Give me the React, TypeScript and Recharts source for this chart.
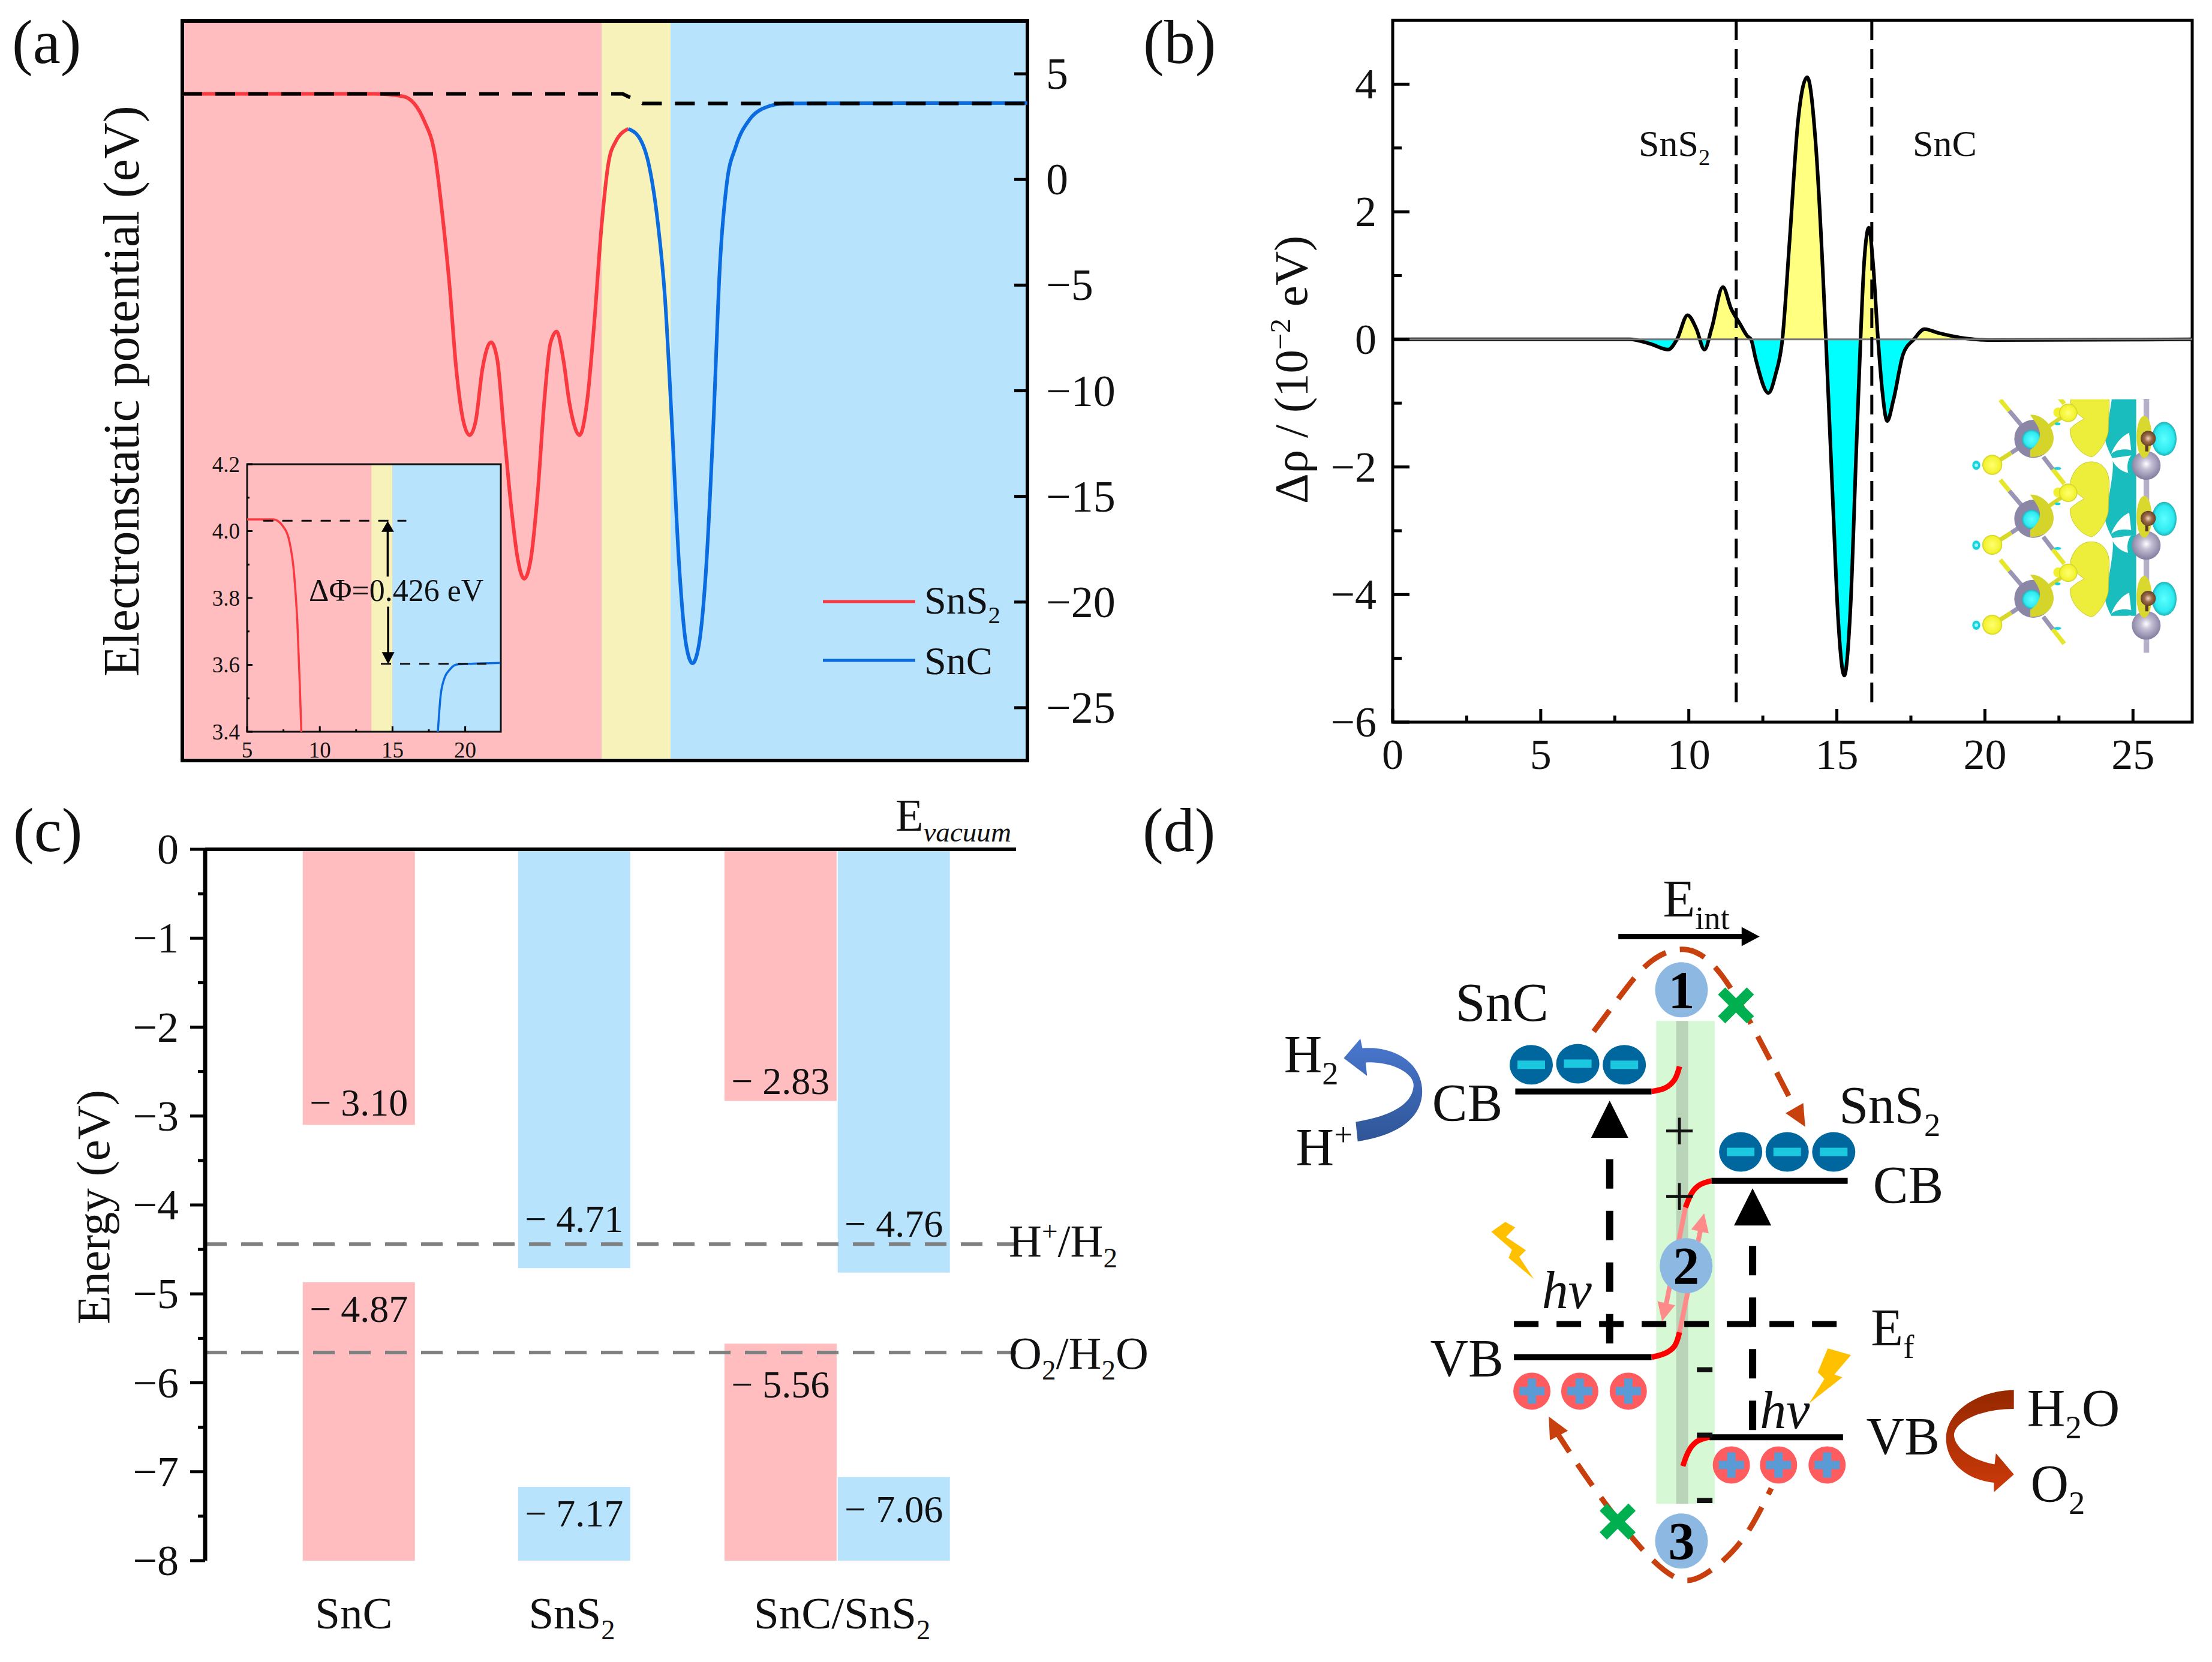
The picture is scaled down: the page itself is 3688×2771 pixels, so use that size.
import React from 'react';
import {
  Area,
  Bar,
  Cell,
  ComposedChart,
  Legend,
  Line,
  ReferenceArea,
  ReferenceDot,
  ReferenceLine,
  Scatter,
  XAxis,
  YAxis,
} from 'recharts';

const SERIF = '"Liberation Serif", "Times New Roman", serif';
const PINK = '#FFBDBF';
const PALE = '#F6F2BA';
const SKY = '#B7E3FD';
const RED = '#F9393F';
const BLUE = '#0B6BE0';

// panel (a), potential profile
const snS2Profile = [
  { x: 0, y: 4.05 }, { x: 6.15, y: 4.05 }, { x: 7.06, y: 3.93 }, { x: 7.74, y: 2.73 }, { x: 8.08, y: 1.07 },
  { x: 8.3, y: -1.56 }, { x: 8.53, y: -4.9 }, { x: 8.75, y: -8.95 }, { x: 8.98, y: -11.45 }, { x: 9.18, y: -12.1 },
  { x: 9.37, y: -11.45 }, { x: 9.59, y: -8.95 }, { x: 9.86, y: -7.7 }, { x: 10.06, y: -8.5 }, { x: 10.27, y: -11.8 },
  { x: 10.5, y: -15.4 }, { x: 10.72, y: -18 }, { x: 10.92, y: -18.9 }, { x: 11.13, y: -18 }, { x: 11.35, y: -14.9 },
  { x: 11.57, y: -10.4 }, { x: 11.76, y: -7.75 }, { x: 11.96, y: -7.2 }, { x: 12.17, y: -8.5 }, { x: 12.37, y: -10.6 },
  { x: 12.69, y: -12.1 }, { x: 12.94, y: -10.4 }, { x: 13.16, y: -6.8 }, { x: 13.39, y: -2.27 }, { x: 13.62, y: 0.83 },
  { x: 13.84, y: 1.78 }, { x: 14.25, y: 2.4 },
];
const snCProfile = [
  { x: 14.25, y: 2.4 }, { x: 14.63, y: 1.9 }, { x: 14.92, y: 0.6 }, { x: 15.19, y: -2.03 }, { x: 15.42, y: -5.6 },
  { x: 15.65, y: -11.8 }, { x: 15.87, y: -18.2 }, { x: 16.1, y: -22.06 }, { x: 16.3, y: -22.9 }, { x: 16.5, y: -22.06 },
  { x: 16.73, y: -18.5 }, { x: 16.96, y: -11.8 }, { x: 17.18, y: -3.94 }, { x: 17.4, y: -0.13 }, { x: 17.68, y: 1.54 },
  { x: 18.13, y: 2.85 }, { x: 18.58, y: 3.38 }, { x: 19.27, y: 3.6 }, { x: 27, y: 3.62 },
];
const vacuumLevel = [{ x: 0, y: 4.05 }, { x: 14.07, y: 4.05 }, { x: 14.7, y: 3.6 }, { x: 27, y: 3.6 }];
const potentialTicks = [5, 0, -5, -10, -15, -20, -25];

// inset of (a)
const insetSnS2 = [
  { x: 5, y: 4.035 }, { x: 6.81, y: 4.035 }, { x: 7.44, y: 4.016 }, { x: 7.91, y: 3.969 },
  { x: 8.23, y: 3.873 }, { x: 8.46, y: 3.723 }, { x: 8.62, y: 3.544 }, { x: 8.73, y: 3.4 },
];
const insetSnC = [
  { x: 18.12, y: 3.4 }, { x: 18.31, y: 3.508 }, { x: 18.54, y: 3.556 }, { x: 18.94, y: 3.586 },
  { x: 19.41, y: 3.601 }, { x: 20.2, y: 3.603 }, { x: 22.4, y: 3.606 },
];
const insetXTicks = [5, 7.5, 10, 12.5, 15, 17.5, 20];
const insetYTicks = [3.4, 3.5, 3.6, 3.7, 3.8, 3.9, 4.0, 4.1, 4.2];

// panel (b), charge density difference
const chargeX = [
  0, 8, 8.7, 9.3, 9.6, 9.96, 10.25, 10.53, 10.77, 11.15, 11.43, 11.72, 11.98, 12.1, 12.26, 12.69, 12.93, 13.16, 13.4, 13.69,
  14, 14.28, 14.52, 14.63, 14.87, 15.04, 15.25, 15.46, 15.65, 15.8, 15.92, 16.08, 16.22, 16.39, 16.53, 16.7, 16.91, 17.24,
  17.6, 17.96, 18.43, 19.14, 20.09, 27,
];
const chargeY = [
  0, 0, -0.07, -0.16, 0, 0.38, 0.17, -0.16, 0.17, 0.82, 0.48, 0.25, 0.05, 0, -0.31, -0.84, -0.55, 0, 1.52, 3.43,
  4.11, 3.1, 1.12, 0, -2.6, -4.36, -5.27, -4.2, -1.82, 0, 1.2, 1.75, 1.2, 0, -0.79, -1.28, -0.95, -0.23,
  0, 0.16, 0.1, 0.03, -0.01, 0,
];
const chargeRows = chargeX.map((x, i) => ({
  x,
  rho: chargeY[i],
  above: Math.max(chargeY[i], 0),
  below: Math.min(chargeY[i], 0),
}));
const interfaceEdges = [11.6, 16.18];

// panel (c), band edges
const bandCategories = ['SnC', 'SnS2', 'SnC/SnS2'];
const bandCategoryTicks = [1.326, 3.27, 5.68];
const bandSlots = [1.37, 3.29, 5.13, 6.14];
const conductionEdge = [-3.1, -4.71, -2.83, -4.76];
const valenceEdge = [-4.87, -7.17, -5.56, -7.06];
const bandColours = [PINK, SKY, PINK, SKY];
const conductionLabelY = [-2.85, -4.16, -2.61, -4.21];
const valenceLabelY = [-5.17, -7.47, -6.02, -7.42];
const bandRows = bandSlots.map((slot, i) => ({
  slot,
  upper: conductionEdge[i],
  gap: valenceEdge[i] - conductionEdge[i],
  lower: -8 - valenceEdge[i],
}));
const redoxLevels = [-4.44, -5.66];
const energyTicks = [0, -0.5, -1, -1.5, -2, -2.5, -3, -3.5, -4, -4.5, -5, -5.5, -6, -6.5, -7, -7.5, -8];

// panel (d), scheme, in scheme units
const pts = (...v: number[][]) => v.map(([x, y]) => ({ x, y }));
const levelLines = [
  pts([520, 540], [725, 540]),
  pts([518, 1019], [725, 1019]),
  pts([815, 701], [1020, 701]),
  pts([812, 1163], [1013, 1163]),
];
const bendLines = [
  pts([725, 540], [745, 534], [760, 518], [767, 495]),
  pts([776, 749], [785, 724], [798, 708], [815, 701]),
  pts([725, 1019], [745, 1012], [760, 998], [767, 974]),
  pts([772, 1215], [780, 1190], [793, 1171], [812, 1163]),
];
const fermiLine = pts([518, 959], [1005, 959]);
const excitationLines = [pts([662, 994], [662, 661]), pts([877, 1150], [877, 818])];
const topArc = pts([638, 432], [680, 365], [725, 305], [780, 285], [830, 330], [880, 430], [945, 580]);
const bottomArc = pts([580, 1150], [630, 1240], [700, 1350], [760, 1415], [805, 1410], [860, 1350], [905, 1255]);
const pinkLines = [pts([767, 974], [801, 776]), pts([746, 929], [776, 749])];
const fieldLine = pts([675, 261], [864, 261]);
const electronSpots = pts([544, 492], [614, 490], [684, 492], [859, 649], [929, 649], [999, 649]);
const holeSpots = pts([545, 1080], [617, 1080], [690, 1080], [845, 1213], [916, 1213], [989, 1213]);
const blockedSpots = pts([852, 385], [674, 1315]);
const routeBadges = [{ x: 770, y: 357, tag: '1' }, { x: 777, y: 854, tag: '2' }, { x: 770, y: 1350, tag: '3' }];
const bigHeads = [{ x: 662, y: 590, turn: 0 }, { x: 877, y: 748, turn: 0 }];
const arcHeads = [{ x: 948, y: 587, turn: 150 }, { x: 578, y: 1143, turn: -28 }];
const pinkHeads = [{ x: 744, y: 938, turn: 193 }, { x: 801, y: 776, turn: 13 }];
const fieldHead = [{ x: 874, y: 261, turn: 90 }];

// one px goes to the axis width / height, the axis refuses to draw at 0
const place = (x: number, y: number, w: number, h: number, pad = 170, side: 'left' | 'right' = 'left') => ({
  box: { position: 'absolute' as const, left: x - pad, top: y - pad },
  size: {
    width: w + pad * 2,
    height: h + pad * 2,
    margin: {
      top: pad,
      right: side === 'right' ? pad - 1 : pad,
      bottom: side === 'right' ? pad : pad - 1,
      left: side === 'left' ? pad - 1 : pad,
    },
  },
});

const minus = (v: number | string) => String(v).replace('-', '\u2212');

const makeTick = (o: {
  dx?: number; dy?: number; major: number; minor?: number; width: number;
  font: number; gap: number; anchor: string; isMajor: (v: number) => boolean; text?: (v: number) => string;
}) => (p: any) => {
  const v = Number(p.payload.value);
  const major = o.isMajor(v);
  const len = major ? o.major : o.minor || 0;
  const tx = o.anchor === 'middle' ? p.x : o.anchor === 'end' ? p.x - o.gap : p.x + o.gap;
  const ty = o.anchor === 'middle' ? p.y + o.gap : p.y;
  return (
    <g>
      <line x1={p.x} y1={p.y} x2={p.x + (o.dx || 0) * len} y2={p.y + (o.dy || 0) * len} stroke="#000" strokeWidth={o.width} />
      {major && (
        <text x={tx} y={ty} textAnchor={o.anchor as any} dominantBaseline="central" fontFamily={SERIF} fontSize={o.font} fill="#111">
          {o.text ? o.text(v) : minus(v)}
        </text>
      )}
    </g>
  );
};

// sub and superscripts in one text element
const Rich = ({ x, y, size, parts, rotate, italicSub, anchor }: any) => {
  let shift = 0;
  return (
    <text x={x} y={y} fontFamily={SERIF} fontSize={size} fill="#111" textAnchor={anchor}
      transform={rotate ? `rotate(${rotate} ${x} ${y})` : undefined}>
      {parts.map((part: any, i: number) => {
        const [str, kind] = Array.isArray(part) ? part : [part, ''];
        const target = kind === 'sub' ? size * 0.24 : kind === 'sup' ? -size * 0.36 : 0;
        const dy = target - shift;
        shift = target;
        return (
          <tspan key={i} dy={dy} fontSize={kind ? size * 0.62 : size} fontStyle={kind === 'sub' && italicSub ? 'italic' : undefined}>
            {str}
          </tspan>
        );
      })}
    </text>
  );
};

const headShape = (len: number, wid: number, colour: string) => (p: any) => {
  const turn = p.payload?.turn ?? p.turn ?? 0;
  return (
    <polygon
      points={`0,${-len / 2} ${wid / 2},${len / 2} ${-wid / 2},${len / 2}`}
      fill={colour}
      transform={`translate(${p.cx} ${p.cy}) rotate(${turn})`}
    />
  );
};

const ElectronShape = (p: any) => (
  <g>
    <ellipse cx={p.cx} cy={p.cy} rx={36} ry={33} fill="#00679E" />
    <rect x={p.cx - 23} y={p.cy - 7} width={46} height={14} fill="#1CC7E0" />
  </g>
);
const HoleShape = (p: any) => (
  <g>
    <circle cx={p.cx} cy={p.cy} r={31} fill="#FF5C60" />
    <rect x={p.cx - 21} y={p.cy - 7} width={42} height={14} fill="#5B9BD5" />
    <rect x={p.cx - 7} y={p.cy - 21} width={14} height={42} fill="#5B9BD5" />
  </g>
);
const BlockedShape = (p: any) => (
  <g stroke="#00B050" strokeWidth={17}>
    <line x1={p.cx - 24} y1={p.cy - 24} x2={p.cx + 24} y2={p.cy + 24} />
    <line x1={p.cx + 24} y1={p.cy - 24} x2={p.cx - 24} y2={p.cy + 24} />
  </g>
);
const BadgeShape = (p: any) => (
  <g>
    <ellipse cx={p.cx} cy={p.cy} rx={44} ry={46} fill="#8DB8E2" />
    <text x={p.cx} y={p.cy} dominantBaseline="central" textAnchor="middle" fontFamily={SERIF} fontWeight="bold" fontSize={88} fill="#000">
      {p.payload?.tag ?? p.tag}
    </text>
  </g>
);

const LegendBox = ({ payload }: any) => {
  const red = (payload || []).find((it: any) => it.value === 'SnS2');
  const blue = (payload || []).find((it: any) => it.value === 'SnC');
  return (
    <svg width={380} height={210} style={{ display: 'block' }}>
      {red && <line x1={0} x2={154} y1={53} y2={53} stroke={red.color} strokeWidth={5} />}
      <Rich x={169} y={73} size={66} parts={['SnS', ['2', 'sub']]} />
      {blue && <line x1={0} x2={154} y1={151} y2={151} stroke={blue.color} strokeWidth={5} />}
      <Rich x={169} y={174} size={66} parts={['SnC']} />
    </svg>
  );
};

const PanelA = () => {
  const p = place(304, 35, 1409, 1233, 170, 'right');
  return (
    <div style={p.box}>
      <ComposedChart {...p.size}>
        <XAxis type="number" dataKey="x" domain={[0, 27]} hide allowDataOverflow />
        <YAxis
          orientation="right" type="number" domain={[-27.5, 7.5]} ticks={potentialTicks} width={1} interval={0}
          axisLine={false} tickLine={false} tickSize={0} tickMargin={0} allowDataOverflow
          tick={makeTick({ dx: -1, major: 22, width: 5, font: 74, gap: 31, anchor: 'start', isMajor: () => true })}
        />
        <ReferenceArea x1={0} x2={13.4} y1={-27.5} y2={7.5} fill={PINK} fillOpacity={1} stroke="none" />
        <ReferenceArea x1={13.4} x2={15.6} y1={-27.5} y2={7.5} fill={PALE} fillOpacity={1} stroke="none" />
        <ReferenceArea x1={15.6} x2={27} y1={-27.5} y2={7.5} fill={SKY} fillOpacity={1} stroke="none" />
        <Line name="SnS2" data={snS2Profile} dataKey="y" type="monotone" stroke={RED} strokeWidth={6} dot={false} isAnimationActive={false} />
        <Line name="SnC" data={snCProfile} dataKey="y" type="monotone" stroke={BLUE} strokeWidth={6} dot={false} isAnimationActive={false} />
        <Line name="vacuum" data={vacuumLevel} dataKey="y" type="linear" stroke="#000" strokeWidth={6} strokeDasharray="33 22" dot={false} legendType="none" isAnimationActive={false} />
        <ReferenceArea x1={0} x2={27} y1={-27.5} y2={7.5} fill="none" stroke="#000" strokeWidth={6} />
        <Legend layout="horizontal" align="center" verticalAlign="middle" content={<LegendBox />}
          wrapperStyle={{ left: 1238, top: 1085, width: 380, height: 210 }} />
      </ComposedChart>
    </div>
  );
};

const PanelAInset = () => {
  const p = place(412, 774, 423, 446, 90);
  return (
    <div style={p.box}>
      <ComposedChart {...p.size}>
        <XAxis
          type="number" dataKey="x" domain={[5, 22.45]} ticks={insetXTicks} height={1} interval={0}
          axisLine={false} tickLine={false} tickSize={0} tickMargin={0} allowDataOverflow
          tick={makeTick({ dy: -1, major: 9, minor: 4, width: 3, font: 37, gap: 30, anchor: 'middle', isMajor: (v) => v % 5 === 0 })}
        />
        <YAxis
          type="number" domain={[3.4, 4.2]} ticks={insetYTicks} width={1} interval={0}
          axisLine={false} tickLine={false} tickSize={0} tickMargin={0} allowDataOverflow
          tick={makeTick({
            dx: 1, major: 9, minor: 4, width: 3, font: 37, gap: 12, anchor: 'end',
            isMajor: (v) => Math.round(v * 10) % 2 === 0, text: (v) => v.toFixed(1),
          })}
        />
        <ReferenceArea x1={5} x2={13.55} y1={3.4} y2={4.2} fill={PINK} fillOpacity={1} stroke="none" />
        <ReferenceArea x1={13.55} x2={15} y1={3.4} y2={4.2} fill={PALE} fillOpacity={1} stroke="none" />
        <ReferenceArea x1={15} x2={22.45} y1={3.4} y2={4.2} fill={SKY} fillOpacity={1} stroke="none" />
        <Line data={insetSnS2} dataKey="y" type="monotone" stroke={RED} strokeWidth={3.5} dot={false} isAnimationActive={false} />
        <Line data={insetSnC} dataKey="y" type="monotone" stroke={BLUE} strokeWidth={3.5} dot={false} isAnimationActive={false} />
        <ReferenceLine segment={[{ x: 6.1, y: 4.031 }, { x: 15.95, y: 4.031 }]} stroke="#111" strokeWidth={3} strokeDasharray="17 15" />
        <ReferenceLine segment={[{ x: 14.2, y: 3.603 }, { x: 21.46, y: 3.603 }]} stroke="#111" strokeWidth={3} strokeDasharray="17 15" />
        <ReferenceLine segment={[{ x: 14.67, y: 4.0 }, { x: 14.67, y: 3.864 }]} stroke="#000" strokeWidth={3.5} />
        <ReferenceLine segment={[{ x: 14.7, y: 3.774 }, { x: 14.7, y: 3.637 }]} stroke="#000" strokeWidth={3.5} />
        <ReferenceDot x={14.67} y={4.014} r={0} shape={headShape(18, 21, '#000')} />
        <ReferenceDot x={14.7} y={3.62} r={0} shape={(s: any) => headShape(20, 21, '#000')({ ...s, turn: 180 })} />
        <ReferenceArea x1={5} x2={22.45} y1={3.4} y2={4.2} fill="none" stroke="#111" strokeWidth={3} />
      </ComposedChart>
    </div>
  );
};

const PanelB = () => {
  const p = place(2322, 34, 1333, 1170, 120);
  return (
    <div style={p.box}>
      <ComposedChart data={chargeRows} {...p.size}>
        <XAxis
          type="number" dataKey="x" domain={[0, 27]} ticks={[0, 2.5, 5, 7.5, 10, 12.5, 15, 17.5, 20, 22.5, 25]} height={1} interval={0}
          axisLine={false} tickLine={false} tickSize={0} tickMargin={0} allowDataOverflow
          tick={makeTick({ dy: -1, major: 22, minor: 11, width: 5, font: 72, gap: 54, anchor: 'middle', isMajor: (v) => v % 5 === 0 })}
        />
        <YAxis
          type="number" domain={[-6, 5]} ticks={[-6, -5, -4, -3, -2, -1, 0, 1, 2, 3, 4]} width={1} interval={0}
          axisLine={false} tickLine={false} tickSize={0} tickMargin={0} allowDataOverflow
          tick={makeTick({ dx: 1, major: 28, minor: 15, width: 5, font: 72, gap: 27, anchor: 'end', isMajor: (v) => v % 2 === 0 })}
        />
        <Area dataKey="above" type="monotone" baseValue={0} stroke="none" fill="#FFFF80" fillOpacity={1} isAnimationActive={false} />
        <Area dataKey="below" type="monotone" baseValue={0} stroke="none" fill="#00FFFF" fillOpacity={1} isAnimationActive={false} />
        <Line dataKey="rho" type="monotone" stroke="#000" strokeWidth={6} dot={false} isAnimationActive={false} />
        <ReferenceLine y={0} stroke="#777" strokeWidth={3} />
        {interfaceEdges.map((x) => (
          <ReferenceLine key={x} segment={[{ x, y: 5 }, { x, y: -5.75 }]} stroke="#000" strokeWidth={5} strokeDasharray="33 15" />
        ))}
        <ReferenceArea x1={0} x2={27} y1={-6} y2={5} fill="none" stroke="#000" strokeWidth={5} />
      </ComposedChart>
    </div>
  );
};

const PanelC = () => {
  const p = place(342, 1416, 1352, 1186, 170);
  return (
    <div style={p.box}>
      <ComposedChart data={bandRows} {...p.size} barGap={0}>
        <XAxis
          type="number" dataKey="slot" domain={[0, 7.23]} ticks={bandCategoryTicks} height={1} interval={0}
          axisLine={false} tickLine={false} tickSize={0} tickMargin={0} allowDataOverflow
          tick={(t: any) => {
            const name = bandCategories[bandCategoryTicks.indexOf(t.payload.value)];
            const parts = name === 'SnC' ? ['SnC'] : name === 'SnS2' ? ['SnS', ['2', 'sub']] : ['SnC/SnS', ['2', 'sub']];
            return <Rich x={t.x} y={t.y + 113} size={75} parts={parts} anchor="middle" />;
          }}
        />
        <YAxis
          type="number" domain={[-8, 0]} ticks={energyTicks} width={1} interval={0}
          axisLine={{ stroke: '#000', strokeWidth: 7 }} tickLine={false} tickSize={0} tickMargin={0} allowDataOverflow
          tick={makeTick({ dx: -1, major: 25, minor: 12, width: 5, font: 72, gap: 44, anchor: 'end', isMajor: (v) => Number.isInteger(v) })}
        />
        <Bar dataKey="upper" stackId="band" barSize={187} isAnimationActive={false}>
          {bandColours.map((c, i) => <Cell key={i} fill={c} />)}
        </Bar>
        <Bar dataKey="gap" stackId="band" barSize={187} fill="none" isAnimationActive={false}>
          {bandColours.map((c, i) => <Cell key={i} fill="transparent" />)}
        </Bar>
        <Bar dataKey="lower" stackId="band" barSize={187} isAnimationActive={false}>
          {bandColours.map((c, i) => <Cell key={i} fill={c} />)}
        </Bar>
        <ReferenceLine y={0} stroke="#000" strokeWidth={6} />
        {redoxLevels.map((y) => (
          <ReferenceLine key={y} y={y} stroke="#808080" strokeWidth={6} strokeDasharray="36 24" />
        ))}
        {bandSlots.map((slot, i) => (
          <ReferenceDot key={`u${i}`} x={slot} y={conductionLabelY[i]} r={0} shape={(s: any) => (
            <text x={s.cx} y={s.cy} textAnchor="middle" dominantBaseline="central" fontFamily={SERIF} fontSize={64} fill="#111">
              {`\u2212 ${Math.abs(conductionEdge[i]).toFixed(2)}`}
            </text>
          )} />
        ))}
        {bandSlots.map((slot, i) => (
          <ReferenceDot key={`l${i}`} x={slot} y={valenceLabelY[i]} r={0} shape={(s: any) => (
            <text x={s.cx} y={s.cy} textAnchor="middle" dominantBaseline="central" fontFamily={SERIF} fontSize={64} fill="#111">
              {`\u2212 ${Math.abs(valenceEdge[i]).toFixed(2)}`}
            </text>
          )} />
        ))}
      </ComposedChart>
    </div>
  );
};

const sx = (z: number) => 1950 + z / 0.9022;
const sy = (z: number) => 1320 + z / 1.0806;

const PanelD = () => (
  <div style={{ position: 'absolute', left: 1950, top: 1320 }}>
    <ComposedChart width={1738} height={1451} margin={{ top: 0, right: 0, bottom: 0, left: 0 }}>
      <XAxis type="number" dataKey="x" domain={[0, 1568]} hide allowDataOverflow />
      <YAxis type="number" dataKey="y" domain={[0, 1568]} reversed hide allowDataOverflow />
      <ReferenceArea x1={732} x2={820} y1={413} y2={1283} fill="#D6F8D4" fillOpacity={1} stroke="none" />
      <ReferenceArea x1={762} x2={780} y1={413} y2={1283} fill="#B9D4B9" fillOpacity={1} stroke="none" />
      {pinkLines.map((d, i) => (
        <Line key={`p${i}`} data={d} dataKey="y" type="linear" stroke="#FF8A8A" strokeWidth={8} dot={false} legendType="none" isAnimationActive={false} />
      ))}
      <Scatter data={pinkHeads} shape={headShape(31, 30, '#FF8A8A')} isAnimationActive={false} />
      {levelLines.map((d, i) => (
        <Line key={`l${i}`} data={d} dataKey="y" type="linear" stroke="#000" strokeWidth={10} dot={false} isAnimationActive={false} />
      ))}
      {bendLines.map((d, i) => (
        <Line key={`b${i}`} data={d} dataKey="y" type="natural" stroke="#FF0000" strokeWidth={9} dot={false} isAnimationActive={false} />
      ))}
      <Line data={fermiLine} dataKey="y" type="linear" stroke="#000" strokeWidth={10} strokeDasharray="41 30" dot={false} isAnimationActive={false} />
      {excitationLines.map((d, i) => (
        <Line key={`e${i}`} data={d} dataKey="y" type="linear" stroke="#000" strokeWidth={12} strokeDasharray="49 37" dot={false} isAnimationActive={false} />
      ))}
      <Line data={topArc} dataKey="y" type="natural" stroke="#C8400E" strokeWidth={9} strokeDasharray="44 24" dot={false} isAnimationActive={false} />
      <Line data={bottomArc} dataKey="y" type="natural" stroke="#C8400E" strokeWidth={9} strokeDasharray="44 24" dot={false} isAnimationActive={false} />
      <Line data={fieldLine} dataKey="y" type="linear" stroke="#000" strokeWidth={9} dot={false} isAnimationActive={false} />
      <Scatter data={bigHeads} shape={headShape(62, 62, '#000')} isAnimationActive={false} />
      <Scatter data={arcHeads} shape={headShape(36, 34, '#C8400E')} isAnimationActive={false} />
      <Scatter data={fieldHead} shape={headShape(30, 32, '#000')} isAnimationActive={false} />
      <Scatter data={electronSpots} shape={ElectronShape} isAnimationActive={false} />
      <Scatter data={holeSpots} shape={HoleShape} isAnimationActive={false} />
      <Scatter data={blockedSpots} shape={BlockedShape} isAnimationActive={false} />
      <Scatter data={routeBadges} shape={BadgeShape} isAnimationActive={false} />
    </ComposedChart>
  </div>
);

const AtomLayers = () => {
  const rows = [-400, 0, 400, 800];
  return (
    <g transform="translate(3200 620) scale(0.3333)">
      <defs>
        <clipPath id="atomClip"><rect x={230} y={137} width={1070} height={1268} /></clipPath>
        <radialGradient id="gYel" cx="0.5" cy="0.5" r="0.55">
          <stop offset="0" stopColor="#FFFF70" /><stop offset="0.75" stopColor="#F3F330" /><stop offset="1" stopColor="#B9B920" />
        </radialGradient>
        <radialGradient id="gGrey" cx="0.5" cy="0.45" r="0.55">
          <stop offset="0" stopColor="#FFFFFF" /><stop offset="0.35" stopColor="#C4BFD4" /><stop offset="1" stopColor="#827C9E" />
        </radialGradient>
        <radialGradient id="gCyan" cx="0.5" cy="0.5" r="0.55">
          <stop offset="0" stopColor="#5CFFFF" /><stop offset="0.7" stopColor="#2EEAF0" /><stop offset="1" stopColor="#179A9E" />
        </radialGradient>
        <radialGradient id="gBrown" cx="0.5" cy="0.5" r="0.55">
          <stop offset="0" stopColor="#F2D8C2" /><stop offset="0.45" stopColor="#9C6A48" /><stop offset="1" stopColor="#5C3A24" />
        </radialGradient>
      </defs>
      <g clipPath="url(#atomClip)">
        <rect x={1122} y={100} width={28} height={1320} fill="#B5B0C8" />
        {rows.map((dy) => (
          <path key={`t${dy}`} transform={`translate(0 ${dy})`} d="M960 20 C985 60 950 200 930 340 C935 370 950 400 960 420 L1085 420 L1085 20 Z" fill="#19BDBD" />
        ))}
        {rows.map((dy) => (
          <g key={`r${dy}`} transform={`translate(0 ${dy})`}>
            <path d="M1050 305 C1010 320 975 370 960 410 C990 385 1030 385 1060 392 Z" fill="#FFF" />
            <path d="M960 432 C975 470 1010 500 1045 505 C1035 470 1045 435 1060 418 Z" fill="#FFF" />
            <line x1={450} y1={195} x2={512} y2={268} stroke="#9A95B5" strokeWidth={22} />
            <line x1={405} y1={140} x2={450} y2={195} stroke="#E6E62A" strokeWidth={22} />
            <line x1={620} y1={425} x2={668} y2={488} stroke="#9A95B5" strokeWidth={22} />
            <line x1={668} y1={488} x2={725} y2={560} stroke="#E6E62A" strokeWidth={22} />
            <line x1={365} y1={465} x2={460} y2={405} stroke="#D8D82A" strokeWidth={22} />
            <line x1={460} y1={405} x2={510} y2={372} stroke="#9A95B5" strokeWidth={22} />
            <circle cx={570} cy={335} r={95} fill="#8C86A6" />
            <circle cx={562} cy={338} r={48} fill="url(#gCyan)" />
            <path d="M555 215 C610 210 670 265 672 330 C672 390 620 430 555 425 L555 390 C600 360 610 320 600 290 C590 260 570 240 555 215 Z" fill="#D4D42A" />
            <line x1={650} y1={270} x2={745} y2={205} stroke="#D8D82A" strokeWidth={20} />
            <circle cx={365} cy={465} r={50} fill="url(#gYel)" />
            <ellipse cx={285} cy={467} rx={20} ry={23} fill="#16D4DC" />
            <circle cx={285} cy={467} r={9} fill="#9FF6F8" />
            <ellipse cx={692} cy={260} rx={14} ry={7} fill="#16D4DC" />
            <ellipse cx={692} cy={483} rx={18} ry={7} fill="#16D4DC" />
            <path d="M860 50 C920 50 950 100 950 160 L945 300 C930 370 880 425 860 425 C810 415 750 350 755 285 C790 250 810 245 825 235 C800 215 770 200 755 150 C770 90 810 50 860 50 Z" fill="#EDED3C" stroke="#C8C82A" strokeWidth={3} />
            <circle cx={695} cy={203} r={25} fill="#F0F030" />
            <circle cx={745} cy={205} r={46} fill="url(#gYel)" />
            <circle cx={1135} cy={468} r={72} fill="url(#gGrey)" />
            <ellipse cx={1225} cy={335} rx={62} ry={85} fill="url(#gCyan)" />
            <ellipse cx={1125} cy={325} rx={38} ry={105} fill="#D8D82E" />
            <rect x={1130} y={360} width={16} height={38} fill="#5C3A24" />
            <circle cx={1145} cy={333} r={38} fill="url(#gBrown)" />
          </g>
        ))}
      </g>
    </g>
  );
};

const Overlay = () => (
  <svg width={3688} height={2771} style={{ position: 'absolute', left: 0, top: 0, pointerEvents: 'none' }}>
    <defs>
      <linearGradient id="gBlueArrow" x1="0" y1="0" x2="0" y2="1">
        <stop offset="0" stopColor="#4A78CF" /><stop offset="1" stopColor="#2F5597" />
      </linearGradient>
      <linearGradient id="gRedArrow" x1="0" y1="0" x2="0" y2="1">
        <stop offset="0" stopColor="#962800" /><stop offset="1" stopColor="#CC3A0A" />
      </linearGradient>
    </defs>

    {/* panel letters */}
    <text x={20} y={105} fontFamily={SERIF} fontSize={104} fill="#111">(a)</text>
    <text x={1906} y={105} fontFamily={SERIF} fontSize={104} fill="#111">(b)</text>
    <text x={22} y={1419} fontFamily={SERIF} fontSize={104} fill="#111">(c)</text>
    <text x={1905} y={1419} fontFamily={SERIF} fontSize={104} fill="#111">(d)</text>

    {/* axis titles */}
    <Rich x={231} y={1128} size={84} rotate={-90} parts={['Electronstatic potential (eV)']} />
    <Rich x={2179} y={840} size={79} rotate={-90} parts={['\u0394\u03C1 / (10', ['\u22122', 'sup'], ' eV)']} />
    <Rich x={182} y={2208} size={79} rotate={-90} parts={['Energy (eV)']} />

    <text x={515} y={1002} fontFamily={SERIF} fontSize={52} fill="#111">{'\u0394\u03A6=0.426 eV'}</text>
    <Rich x={2732} y={260} size={62} parts={['SnS', ['2', 'sub']]} />
    <Rich x={3189} y={260} size={62} parts={['SnC']} />

    <AtomLayers />

    {/* panel (c) level names */}
    <Rich x={1493} y={1385} size={76} italicSub parts={['E', ['vacuum', 'sub']]} />
    <Rich x={1682} y={2095} size={76} parts={['H', ['+', 'sup'], '/H', ['2', 'sub']]} />
    <Rich x={1682} y={2282} size={76} parts={['O', ['2', 'sub'], '/H', ['2', 'sub'], 'O']} />

    {/* panel (d) */}
    <g transform="translate(1950 1320) scale(1.1084 0.9254)">
      <path d="M280 595 C330 585 365 565 367 530 C368 505 330 485 295 488 L297 512 L262 480 L287 445 L290 462 C340 458 380 490 380 540 C380 590 340 620 283 630 Z" fill="url(#gBlueArrow)" />
      <path d="M1270 1078 C1210 1080 1168 1120 1168 1165 C1168 1210 1200 1240 1240 1245 L1240 1262 L1270 1230 L1243 1192 L1241 1212 C1210 1205 1182 1185 1180 1160 C1180 1135 1220 1112 1270 1112 Z" fill="url(#gRedArrow)" />
      <polygon points="505,775 484,793 515,825 510,840 548,878 526,838 536,826 506,802 520,785" fill="#FFC000" />
      <polygon points="990,1003 1025,1015 1000,1050 1012,1055 962,1102 985,1058 975,1046" fill="#FFC000" />
    </g>
    <Rich x={sx(742)} y={sy(225)} size={88} parts={['E', ['int', 'sub']]} />
    <Rich x={sx(430)} y={sy(413)} size={90} parts={['SnC']} />
    <Rich x={sx(395)} y={sy(592)} size={88} parts={['CB']} />
    <Rich x={sx(172)} y={sy(505)} size={88} parts={['H', ['2', 'sub']]} />
    <Rich x={sx(190)} y={sy(672)} size={88} parts={['H', ['+', 'sup']]} />
    <Rich x={sx(392)} y={sy(1053)} size={88} parts={['VB']} />
    <Rich x={sx(1007)} y={sy(597)} size={88} parts={['SnS', ['2', 'sub']]} />
    <Rich x={sx(1058)} y={sy(740)} size={88} parts={['CB']} />
    <Rich x={sx(1055)} y={sy(997)} size={88} parts={['E', ['f', 'sub']]} />
    <Rich x={sx(1048)} y={sy(1193)} size={88} parts={['VB']} />
    <Rich x={sx(1290)} y={sy(1142)} size={88} parts={['H', ['2', 'sub'], 'O']} />
    <Rich x={sx(1295)} y={sy(1278)} size={88} parts={['O', ['2', 'sub']]} />
    <text x={sx(560)} y={sy(930)} fontFamily={SERIF} fontStyle="italic" fontSize={88} fill="#111">{'h\u03BD'}</text>
    <text x={sx(888)} y={sy(1147)} fontFamily={SERIF} fontStyle="italic" fontSize={88} fill="#111">{'h\u03BD'}</text>
    <text x={sx(767)} y={sy(610)} textAnchor="middle" dominantBaseline="central" fontFamily={SERIF} fontSize={95} fill="#111">+</text>
    <text x={sx(767)} y={sy(728)} textAnchor="middle" dominantBaseline="central" fontFamily={SERIF} fontSize={95} fill="#111">+</text>
    {[1035, 1153, 1271].map((z) => (
      <text key={z} x={sx(805)} y={sy(z - 5)} textAnchor="middle" dominantBaseline="central" fontFamily={SERIF} fontWeight="bold" fontSize={100} fill="#111">-</text>
    ))}
  </svg>
);

export default function App() {
  return (
    <div style={{ position: 'absolute', left: 0, top: 0, width: 3688, height: 2771, background: '#fff', overflow: 'hidden' }}>
      <PanelA />
      <PanelAInset />
      <PanelB />
      <PanelC />
      <PanelD />
      <Overlay />
    </div>
  );
}
